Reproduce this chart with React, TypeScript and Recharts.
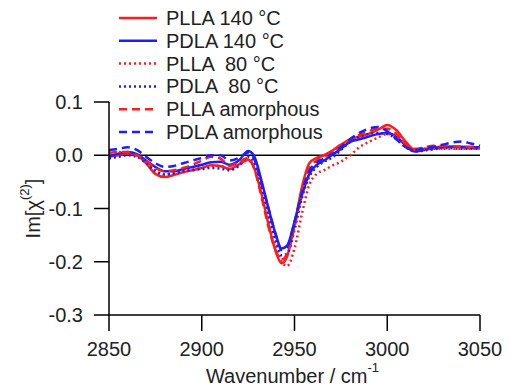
import { LineChart, Line, XAxis, YAxis, ReferenceLine } from 'recharts'

const wavenumbers = [
  2850, 2855, 2860, 2865, 2870, 2875, 2880, 2885, 2890, 2895, 2900, 2905, 2910, 2915, 2920, 2925,
  2928, 2932, 2936, 2940, 2943, 2946, 2950, 2954, 2958, 2962, 2966, 2970, 2975, 2980, 2985, 2990,
  2995, 3000, 3005, 3010, 3015, 3020, 3025, 3030, 3035, 3040, 3045, 3050,
]

const plla140 = [
  -0.003, 0.0, 0.003, 0.0, -0.015, -0.035, -0.041, -0.037, -0.032, -0.028, -0.024, -0.019, -0.02, -0.026, -0.017, -0.008,
  -0.022, -0.07, -0.13, -0.182, -0.203, -0.19, -0.13, -0.06, -0.015, -0.005, 0.0, 0.008, 0.02, 0.03, 0.035, 0.04,
  0.048, 0.057, 0.047, 0.025, 0.01, 0.012, 0.015, 0.016, 0.016, 0.015, 0.014, 0.013,
]
const pdla140 = [
  -0.002, 0.003, 0.006, 0.002, -0.01, -0.022, -0.03, -0.03, -0.026, -0.022, -0.018, -0.013, -0.012, -0.018, -0.01, 0.008,
  0.0, -0.045, -0.1, -0.15, -0.175, -0.17, -0.125, -0.075, -0.035, -0.018, -0.01, 0.0, 0.012, 0.025, 0.03, 0.035,
  0.04, 0.042, 0.035, 0.018, 0.007, 0.01, 0.013, 0.015, 0.016, 0.016, 0.015, 0.015,
]
const plla80 = [
  0.005, 0.006, 0.004, -0.002, -0.012, -0.028, -0.036, -0.033, -0.03, -0.027, -0.024, -0.02, -0.02, -0.026, -0.018, -0.01,
  -0.02, -0.06, -0.115, -0.17, -0.2, -0.208, -0.175, -0.11, -0.055, -0.035, -0.028, -0.02, -0.012, 0.0, 0.015, 0.025,
  0.033, 0.04, 0.035, 0.02, 0.01, 0.012, 0.012, 0.012, 0.012, 0.012, 0.012, 0.013,
]
const pdla80 = [
  -0.006, -0.003, 0.0, -0.003, -0.015, -0.03, -0.036, -0.034, -0.03, -0.028, -0.026, -0.024, -0.025, -0.028, -0.02, -0.003,
  -0.012, -0.055, -0.11, -0.16, -0.188, -0.185, -0.14, -0.08, -0.04, -0.022, -0.012, -0.005, 0.01, 0.025, 0.035, 0.04,
  0.042, 0.04, 0.03, 0.015, 0.007, 0.009, 0.011, 0.013, 0.013, 0.012, 0.012, 0.012,
]
const pllaAmorphous = [
  0.004, 0.006, 0.006, 0.0, -0.01, -0.024, -0.03, -0.028, -0.024, -0.018, -0.01, -0.003, -0.006, -0.02, -0.013, -0.005,
  -0.022, -0.075, -0.135, -0.18, -0.196, -0.185, -0.135, -0.07, -0.025, -0.01, -0.003, 0.004, 0.018, 0.03, 0.038, 0.045,
  0.05, 0.05, 0.04, 0.02, 0.012, 0.015, 0.018, 0.018, 0.017, 0.016, 0.016, 0.016,
]
const pdlaAmorphous = [
  0.01, 0.012, 0.015, 0.01, -0.003, -0.015, -0.022, -0.02, -0.015, -0.01, -0.005, 0.0, 0.0, -0.01, -0.005, 0.005,
  -0.005, -0.05, -0.1, -0.15, -0.178, -0.172, -0.125, -0.07, -0.03, -0.014, -0.006, 0.002, 0.015, 0.03, 0.042, 0.05,
  0.053, 0.045, 0.03, 0.015, 0.01, 0.013, 0.016, 0.02, 0.024, 0.026, 0.022, 0.018,
]

const xTicks = [2850, 2900, 2950, 3000, 3050]
const yTicks = [0.1, 0, -0.1, -0.2, -0.3]

const RED = '#fa1e1e'
const BLUE = '#1e1efa'
const FONT = '"Liberation Sans", Arial, sans-serif'
const INK = '#222'

const series = [
  { key: 'plla140', name: 'PLLA 140 °C', color: RED, dash: undefined, values: plla140 },
  { key: 'pdla140', name: 'PDLA 140 °C', color: BLUE, dash: undefined, values: pdla140 },
  { key: 'plla80', name: 'PLLA  80 °C', color: RED, dash: '2 3', values: plla80 },
  { key: 'pdla80', name: 'PDLA  80 °C', color: BLUE, dash: '2 3', values: pdla80 },
  { key: 'pllaAm', name: 'PLLA amorphous', color: RED, dash: '8 5', values: pllaAmorphous },
  { key: 'pdlaAm', name: 'PDLA amorphous', color: BLUE, dash: '8 5', values: pdlaAmorphous },
]

const data = wavenumbers.map((w, i) => {
  const row: Record<string, number> = { w }
  series.forEach((s) => { row[s.key] = s.values[i] })
  return row
})

function XTitle(props: any) {
  const vb = props.viewBox || { x: 109, y: 315, width: 371 }
  const cx = vb.x + vb.width / 2 - 2
  const y = vb.y + 68
  return (
    <text x={cx} y={y} textAnchor="middle" fontFamily={FONT} fontSize={20} fill={INK}>
      Wavenumber / cm<tspan fontSize={13} dy={-11}>-1</tspan>
    </text>
  )
}

function YTitle(props: any) {
  const vb = props.viewBox || { x: 0, y: 102, height: 213 }
  const cy = vb.y + vb.height / 2
  const cx = 40
  return (
    <text x={cx} y={cy} transform={`rotate(-90 ${cx} ${cy})`} textAnchor="middle" fontFamily={FONT} fontSize={20} fill={INK}>
      Im[χ<tspan fontSize={13} dy={-11}>(2)</tspan><tspan dy={11}>]</tspan>
    </text>
  )
}

// legend sits over the top-left of the plot, like the original
function LegendBox() {
  return (
    <svg width={400} height={150} style={{ position: 'absolute', left: 0, top: 0, pointerEvents: 'none' }}>
      {series.map((s, i) => {
        const y = 18 + i * 22.8
        return (
          <g key={s.key}>
            <line x1={119} x2={157} y1={y} y2={y} stroke={s.color} strokeWidth={2.5} strokeDasharray={s.dash} />
            <text x={166} y={y + 7} fontFamily={FONT} fontSize={20} fill={INK} style={{ whiteSpace: 'pre' }}>
              {s.name}
            </text>
          </g>
        )
      })}
    </svg>
  )
}

export default function App() {
  return (
    <div style={{ position: 'absolute', left: 0, top: 0, width: 511, height: 390, background: '#fff' }}>
      <LineChart width={511} height={390} data={data} margin={{ top: 102, right: 31, bottom: 0, left: 0 }}>
        <XAxis
          dataKey="w"
          type="number"
          domain={[2850, 3050]}
          ticks={xTicks}
          interval={0}
          height={75}
          stroke="#000"
          strokeWidth={1.5}
          tickSize={16}
          tickMargin={11}
          tick={{ fontFamily: FONT, fontSize: 20, fill: INK }}
          label={{ content: XTitle }}
        />
        <YAxis
          type="number"
          domain={[-0.3, 0.1]}
          ticks={yTicks}
          interval={0}
          width={109}
          stroke="#000"
          strokeWidth={1.5}
          tickSize={15}
          tickMargin={11}
          tickFormatter={(v: number) => v.toFixed(1)}
          tick={{ fontFamily: FONT, fontSize: 20, fill: INK }}
          label={{ content: YTitle }}
        />
        <ReferenceLine y={0} stroke="#000" strokeWidth={1.5} />
        {series.map((s) => (
          <Line
            key={s.key}
            dataKey={s.key}
            name={s.name}
            type="monotone"
            stroke={s.color}
            strokeWidth={2.5}
            strokeDasharray={s.dash}
            dot={false}
            activeDot={false}
            isAnimationActive={false}
          />
        ))}
      </LineChart>
      <LegendBox />
    </div>
  )
}
